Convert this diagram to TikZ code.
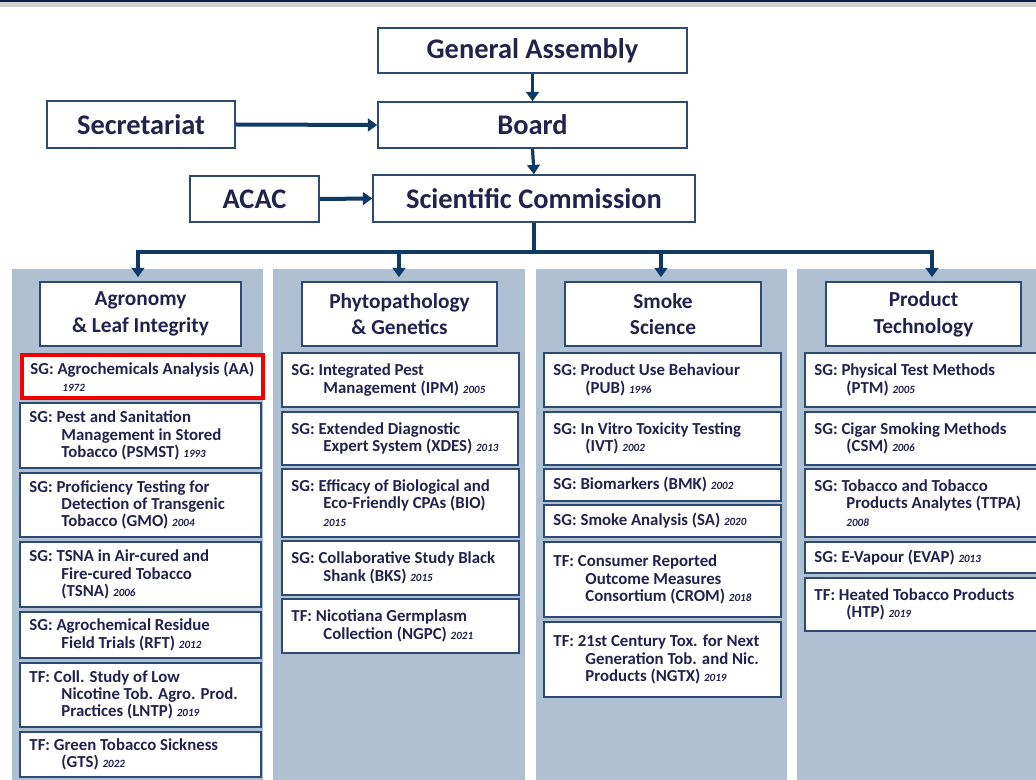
\documentclass[tikz,border=0pt]{standalone}
\usepackage{fontspec}
\setmainfont{Carlito}
\usetikzlibrary{arrows.meta,fit,calc}
\definecolor{navy}{HTML}{22224F}
\definecolor{arrowc}{HTML}{0E3A66}
\definecolor{panel}{HTML}{AFC0D2}
\definecolor{boxline}{HTML}{2D4A72}
\definecolor{topnavy}{HTML}{0B1E48}
\definecolor{topgray}{HTML}{D2D2D2}
\definecolor{redbox}{HTML}{F20000}
\newcommand\yr[1]{{\fontsize{8.3}{10}\selectfont\itshape #1}}
\newcommand\ii{\hspace*{24pt}}
\newcommand\sgb[7][bx]{%
  \coordinate (#2-a) at (#3,#4); \coordinate (#2-b) at (#5,#6);
  \node[#1, fit=(#2-a)(#2-b)] (#2) {};
  \node[sgtext, anchor=west] (#2-t) at ($(#2.west)+(10,0)$) {#7};}
\newcommand\hdb[6]{%
  \coordinate (#1-a) at (#2,#3); \coordinate (#1-b) at (#4,#5);
  \node[hbox, fit=(#1-a)(#1-b)] (#1) {};
  \node[htext] (#1-t) at (#1.center) {#6};}
\newcommand\tpb[6]{%
  \coordinate (#1-a) at (#2,#3); \coordinate (#1-b) at (#4,#5);
  \node[tbox, fit=(#1-a)(#1-b)] (#1) {};
  \node[ttext] (#1-t) at (#1.center) {#6};}
\begin{document}
\begin{tikzpicture}[x=0.75pt,y=-0.75pt,
  bx/.style={draw=boxline, line width=1.2pt, fill=white, inner sep=0pt},
  redbx/.style={draw=redbox, line width=2.7pt, fill=white, inner sep=0pt},
  hbox/.style={draw=boxline, line width=1.2pt, fill=white, inner sep=0pt},
  tbox/.style={draw=boxline, line width=1.1pt, fill=white, inner sep=0pt},
  sgtext/.style={text=navy, align=left, inner sep=0pt, font=\fontsize{12.6}{13}\selectfont\bfseries},
  htext/.style={text=navy, align=center, inner sep=0pt, font=\fontsize{16}{20}\selectfont\bfseries},
  ttext/.style={text=navy, align=center, inner sep=0pt, font=\fontsize{21.3}{26}\selectfont\bfseries},
  conn/.style={draw=arrowc, line width=2.4pt},
  arr/.style={conn, -{Triangle[length=7pt,width=9.5pt]}}
]
\useasboundingbox (0,0) rectangle (1036,780);
\clip (0,0) rectangle (1036,780);
\fill[white] (0,0) rectangle (1036,780);
\fill[topnavy] (0,0) rectangle (1036,2);
\fill[topgray] (0,2) rectangle (1036,7);

% panels
\fill[panel] (12,269) rectangle (263,780);
\fill[panel] (273,269) rectangle (525,780);
\fill[panel] (536,269) rectangle (787,780);
\fill[panel] (797,269) rectangle (1036,780);

% top boxes
\tpb{ga}{378}{28}{687}{73}{General Assembly}
\tpb{board}{378}{102}{687}{148}{Board}
\tpb{sec}{47}{101}{235}{148}{Secretariat}
\tpb{acac}{190}{176}{319}{222}{ACAC}
\tpb{sc}{373}{175}{695}{222}{Scientific Commission}

\draw[arr] (ga.south) -- (board.north);
\draw[arr] (board.south) -- (sc.north);
\draw[arr, line width=3pt] (sec.east) -- (board.west);
\draw[arr, line width=3pt] (acac.east) -- (sc.west);

% headers
\hdb{h1}{40}{282}{241}{346}{Agronomy\\\& Leaf Integrity}
\hdb{h2}{302}{282}{497}{346}{Phytopathology\\\& Genetics}
\hdb{h3}{565}{282}{761}{346}{Smoke\\Science}
\hdb{h4}{826}{282}{1021}{346}{Product\\Technology}

% bus
\coordinate (bus) at (534,252);
\coordinate (b1) at (138,252);
\coordinate (b2) at (399,252);
\coordinate (b3) at (661,252);
\coordinate (b4) at (932,252);
\draw[conn] (sc.south) -- (bus);
\draw[conn, line cap=rect] (b1) -- (b4);
\draw[arr, shorten >=3] (b1) -- (b1 |- h1.north);
\draw[arr, shorten >=3] (b2) -- (b2 |- h2.north);
\draw[arr, shorten >=3] (b3) -- (b3 |- h3.north);
\draw[arr, shorten >=3] (b4) -- (b4 |- h4.north);

% column 1
\sgb[redbx]{aa}{22}{355}{263}{398}{SG: Agrochemicals Analysis (AA)\\\ii\yr{1972}}
\sgb{psmst}{20}{403}{261}{468}{SG: Pest and Sanitation\\\ii Management in Stored\\\ii Tobacco (PSMST) \yr{1993}}
\sgb{gmo}{20}{473}{261}{537}{SG: Proficiency Testing for\\\ii Detection of Transgenic\\\ii Tobacco (GMO) \yr{2004}}
\sgb{tsna}{20}{542}{261}{607}{SG: TSNA in Air-cured and\\\ii Fire-cured Tobacco\\\ii (TSNA) \yr{2006}}
\sgb{rft}{20}{612}{261}{658}{SG: Agrochemical Residue\\\ii Field Trials (RFT) \yr{2012}}
\sgb{lntp}{20}{663}{261}{727}{TF: Coll. Study of Low\\\ii Nicotine Tob. Agro. Prod.\\\ii Practices (LNTP) \yr{2019}}
\sgb{gts}{20}{732}{261}{777}{TF: Green Tobacco Sickness\\\ii (GTS) \yr{2022}}

% column 2
\sgb{ipm}{282}{353}{519}{407}{SG: Integrated Pest\\\ii Management (IPM) \yr{2005}}
\sgb{xdes}{282}{412}{518}{465}{SG: Extended Diagnostic\\\ii Expert System (XDES) \yr{2013}}
\sgb{bio}{282}{469}{519}{537}{SG: Efficacy of Biological and\\\ii Eco-Friendly CPAs (BIO)\\\ii\yr{2015}}
\sgb{bks}{282}{541}{519}{595}{SG: Collaborative Study Black\\\ii Shank (BKS) \yr{2015}}
\sgb{ngpc}{282}{599}{519}{653}{TF: Nicotiana Germplasm\\\ii Collection (NGPC) \yr{2021}}

% column 3
\sgb{pub}{544}{353}{781}{407}{SG: Product Use Behaviour\\\ii (PUB) \yr{1996}}
\sgb{ivt}{544}{412}{781}{465}{SG: In Vitro Toxicity Testing\\\ii (IVT) \yr{2002}}
\sgb{bmk}{544}{469}{781}{501}{SG: Biomarkers (BMK) \yr{2002}}
\sgb{sa}{544}{505}{781}{537}{SG: Smoke Analysis (SA) \yr{2020}}
\sgb{crom}{544}{542}{781}{617}{TF: Consumer Reported\\\ii Outcome Measures\\\ii Consortium (CROM) \yr{2018}}
\sgb{ngtx}{544}{622}{781}{697}{TF: 21st Century Tox. for Next\\\ii Generation Tob. and Nic.\\\ii Products (NGTX) \yr{2019}}

% column 4
\sgb{ptm}{805}{353}{1045}{407}{SG: Physical Test Methods\\\ii (PTM) \yr{2005}}
\sgb{csm}{805}{412}{1045}{465}{SG: Cigar Smoking Methods\\\ii (CSM) \yr{2006}}
\sgb{ttpa}{805}{469}{1045}{537}{SG: Tobacco and Tobacco\\\ii Products Analytes (TTPA)\\\ii\yr{2008}}
\sgb{evap}{805}{542}{1045}{573}{SG: E-Vapour (EVAP) \yr{2013}}
\sgb{htp}{805}{578}{1045}{631}{TF: Heated Tobacco Products\\\ii (HTP) \yr{2019}}
\end{tikzpicture}
\end{document}
